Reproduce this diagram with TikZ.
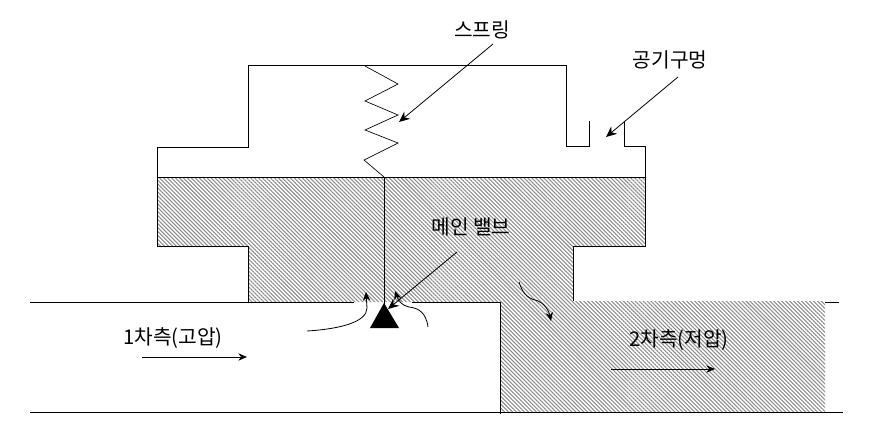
\documentclass[tikz,border=0pt]{standalone}
\usepackage{fontspec}
\setmainfont{Noto Sans CJK KR}
\usetikzlibrary{arrows.meta}
\usetikzlibrary{patterns.meta}
\tikzset{
    outline/.style={line width=0.75pt},
    leader/.style={line width=0.6pt, -{Stealth[length=8pt, width=7pt]}},
    flow/.style={line width=0.6pt, -{Stealth[length=6.5pt, width=5.5pt]}},
    label/.style={font=\fontsize{15.2pt}{17pt}\selectfont, inner sep=0pt},
}

\begin{document}
\begin{tikzpicture}[x=0.75pt, y=-0.75pt]
    \useasboundingbox (0,0) rectangle (870,442);

    % Control points of the body
    \coordinate (TL) at (248,66);
    \coordinate (TR) at (566,66);
    \coordinate (VL) at (589,121);
    \coordinate (VR) at (624,121);

    % Hatched area (high pressure chamber + outlet)
    \fill [pattern={Lines[angle=-45, distance=2.1pt, line width=0.8pt]}, pattern color=black!45]
        (157,177) -- (645,177) -- (645,247) -- (573,247) -- (573,301) -- (825,301)
        -- (825,412) -- (500,412) -- (500,302) -- (248,302) -- (248,247) -- (157,247) -- cycle;

    % Cover
    \draw [outline] (157,177) -- (157,148) -- (248,148) -- (TL) -- (TR) -- (566,147) -- (589,147) -- (VL);
    \draw [outline] (VR) -- (624,147) -- (645,147) -- (645,177);
    \draw [outline] (157,177) -- (645,177);

    % Main valve
    \draw [outline] (157,177) -- (157,246) -- (248,246) -- (248,302);
    \draw [outline] (645,177) -- (645,246) -- (573,246) -- (573,301);

    % Pipe
    \draw [outline] (30,302) -- (354,302);
    \draw [outline] (412,302) -- (500,302) -- (500,414);
    \draw [outline] (825,302) -- (839,302);
    \draw [outline] (30,412) -- (843,412);

    % Spring and rod
    \draw [line width=0.5pt] (365,66) -- (398,84) -- (365,101) -- (398,115) -- (365,130) -- (398,143) -- (364,160) -- (384,177);
    \draw [outline] (384,177) -- (384,304);
    \fill (384,303) -- (399,328) -- (370,328) -- cycle;

    % Labels
    \node [label] (spring) at (482,30) {스프링};
    \node [label] (hole) at (670,60) {공기구멍};
    \node [label] (valve) at (471,227) {메인 밸브};
    \node [label] (inlet) at (173,338) {1차측(고압)};
    \node [label] (outlet) at (679,340) {2차측(저압)};

    % Free ends of the leaders
    \coordinate (Ss) at (493,44);
    \coordinate (St) at (399,122);
    \coordinate (Hs) at (678,77);
    \coordinate (Ht) at (606,137);
    \coordinate (Vs) at (457,252);
    \coordinate (Vt) at (388,309);

    \draw [leader] (Ss) -- (St);
    \draw [leader] (Hs) -- (Ht);
    \draw [leader] (Vs) -- (Vt);

    % Flow arrows
    \draw [flow] (142,357) -- (247,357);
    \draw [flow] (611,369) -- (715,369);
    \draw [flow] (307,331) .. controls (340,329) and (367,322) .. (367,308) -- (366,292);
    \draw [flow] (428,327) .. controls (426,312) and (418,308) .. (409,307) .. controls (402,306) and (398,300) .. (395,291);
    \draw [flow] (519,282) .. controls (522,292) and (527,298) .. (535,300) .. controls (544,302) and (549,311) .. (551,321);

\end{tikzpicture}
\end{document}
